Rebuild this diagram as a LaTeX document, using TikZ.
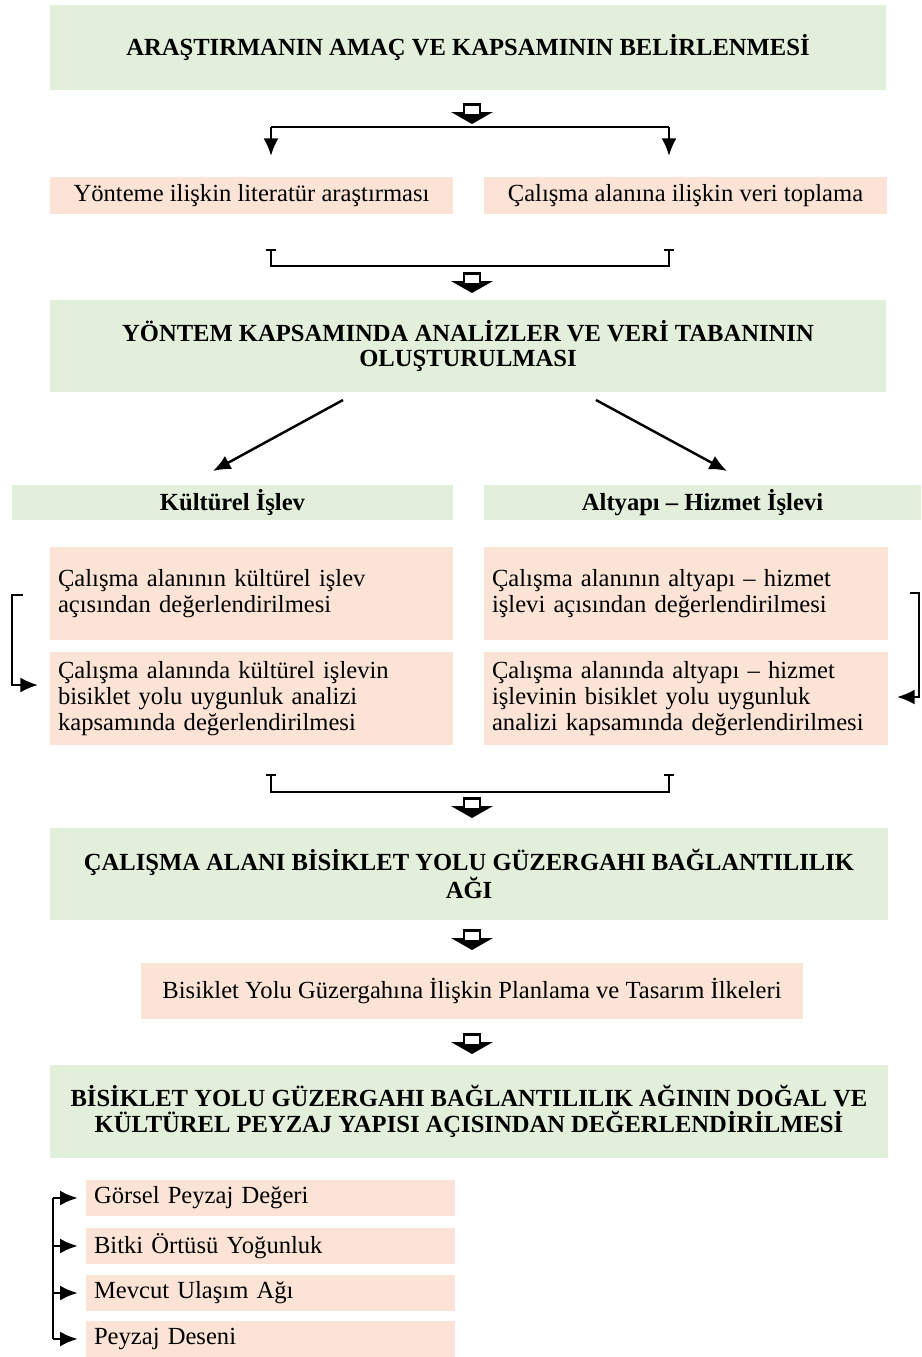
\documentclass[tikz,border=0pt]{standalone}
\usepackage{fontspec}
\setmainfont{Liberation Serif}
\usetikzlibrary{arrows.meta}
\definecolor{boxgreen}{RGB}{226,239,218}
\definecolor{boxpeach}{RGB}{251,228,214}

\tikzset{
  greenbox/.style={fill=boxgreen,draw=none,align=center,inner sep=0pt,font=\fontsize{14}{14.7}\selectfont\bfseries},
  peachbox/.style={fill=boxpeach,draw=none,align=center,inner sep=0pt,font=\fontsize{14}{14.7}\selectfont},
  leftbox/.style={peachbox,align=left,text width=#1,inner xsep=0.16cm},
  link/.style={line width=1.4pt,-{Latex[length=10pt,width=8.5pt]}},
  brace/.style={line width=1.4pt},
}
\newcommand{\blockarrow}[1]{%
  \fill [black] #1 ++(-21,8) -- ++(42,0) -- ++(-21,12) -- cycle;
  \draw [line width=1.7pt,fill=white] #1 ++(-8,10) -- ++(0,-10) -- ++(16,0) -- ++(0,10);
}

\begin{document}
\begin{tikzpicture}[x=0.02cm,y=-0.02cm]
\useasboundingbox (0,0) rectangle (921,1357);

% aim of the study
\node [greenbox,minimum width=16.72cm,minimum height=1.7cm] (aim) at (468,47.5) {ARAŞTIRMANIN AMAÇ VE KAPSAMININ BELİRLENMESİ};
\blockarrow{(472,104)}

% split into two branches
\coordinate (splitL) at (271,127);
\coordinate (splitR) at (669,127);
\node [peachbox,minimum width=8.06cm,minimum height=0.74cm] (lit) at (251.5,195.5) {Yönteme ilişkin literatür araştırması};
\node [peachbox,minimum width=8.06cm,minimum height=0.74cm] (data) at (685.5,195.5) {Çalışma alanına ilişkin veri toplama};
\draw [brace] (splitL) -- (splitR);
\draw [link] (splitL) -- ++(0,29) coordinate (litin);
\draw [link] (splitR) -- ++(0,29) coordinate (datain);

% join
\coordinate (joinL) at (271,250);
\coordinate (joinR) at (669,250);
\draw [brace] (joinL) -- ++(0,16) -| (joinR);
\draw [line width=0.6pt] (joinL) ++(-5,0) -- ++(10,0);
\draw [line width=0.6pt] (joinR) ++(-5,0) -- ++(10,0);
\blockarrow{(472,273)}

% analyses and database
\node [greenbox,minimum width=16.72cm,minimum height=1.84cm] (analysis) at (468,346) {YÖNTEM KAPSAMINDA ANALİZLER VE VERİ TABANININ\\OLUŞTURULMASI};

\node [greenbox,minimum width=8.82cm,minimum height=0.7cm] (cult) at (232.5,502.5) {Kültürel İşlev};
\node [greenbox,minimum width=8.74cm,minimum height=0.7cm] (infra) at (702.5,502.5) {Altyapı -- Hizmet İşlevi};
\coordinate (fromL) at (343,400);
\coordinate (fromR) at (596,400);
\draw [link] (fromL) -- (213,471);
\draw [link] (fromR) -- (727,471);

% evaluation boxes
\node [leftbox=7.74cm,minimum height=1.86cm] (cultA) at (251.5,593.5) {Çalışma alanının kültürel işlev\\açısından değerlendirilmesi};
\node [leftbox=7.76cm,minimum height=1.86cm] (infraA) at (686,593.5) {Çalışma alanının altyapı -- hizmet\\işlevi açısından değerlendirilmesi};
\node [leftbox=7.74cm,minimum height=1.86cm] (cultB) at (251.5,698.5) {Çalışma alanında kültürel işlevin\\bisiklet yolu uygunluk analizi\\kapsamında değerlendirilmesi};
\node [leftbox=7.76cm,minimum height=1.86cm] (infraB) at (686,698.5) {Çalışma alanında altyapı -- hizmet\\işlevinin bisiklet yolu uygunluk\\analizi kapsamında değerlendirilmesi};

% side loops
\draw [link] (23,595) -- (12,595) -- (12,685) -- (38,685);
\draw [link] (910,593) -- (919,593) -- (919,697) -- (897,697);

% join
\coordinate (join2L) at (271,775);
\coordinate (join2R) at (669,775);
\draw [brace] (join2L) -- ++(0,17) -| (join2R);
\draw [line width=0.6pt] (join2L) ++(-5,0) -- ++(10,0);
\draw [line width=0.6pt] (join2R) ++(-5,0) -- ++(10,0);
\blockarrow{(472,798)}

% network
\node [greenbox,minimum width=16.76cm,minimum height=1.84cm] (net) at (469,874) {ÇALIŞMA ALANI BİSİKLET YOLU GÜZERGAHI BAĞLANTILILIK\\AĞI};
\blockarrow{(472,930)}
\node [peachbox,minimum width=13.24cm,minimum height=1.12cm] (principles) at (472,991) {Bisiklet Yolu Güzergahına İlişkin Planlama ve Tasarım İlkeleri};
\blockarrow{(472,1034)}
\node [greenbox,minimum width=16.76cm,minimum height=1.86cm] (landscape) at (469,1111.5) {BİSİKLET YOLU GÜZERGAHI BAĞLANTILILIK AĞININ DOĞAL VE\\KÜLTÜREL PEYZAJ YAPISI AÇISINDAN DEĞERLENDİRİLMESİ};

% criteria
\node [leftbox=7.06cm,minimum height=0.72cm] (visual) at (270.5,1198) {Görsel Peyzaj Değeri};
\node [leftbox=7.06cm,minimum height=0.72cm] (veg) at (270.5,1246) {Bitki Örtüsü Yoğunluk};
\node [leftbox=7.06cm,minimum height=0.72cm] (transport) at (270.5,1293) {Mevcut Ulaşım Ağı};
\node [leftbox=7.06cm,minimum height=0.72cm] (pattern) at (270.5,1339) {Peyzaj Deseni};
\draw [brace] (53,1198) -- (53,1339);
\foreach \n in {visual,veg,transport,pattern}
  \draw [link] (53,0 |- \n.west) -- ([xshift=-0.16cm]\n.west);

\end{tikzpicture}
\end{document}
